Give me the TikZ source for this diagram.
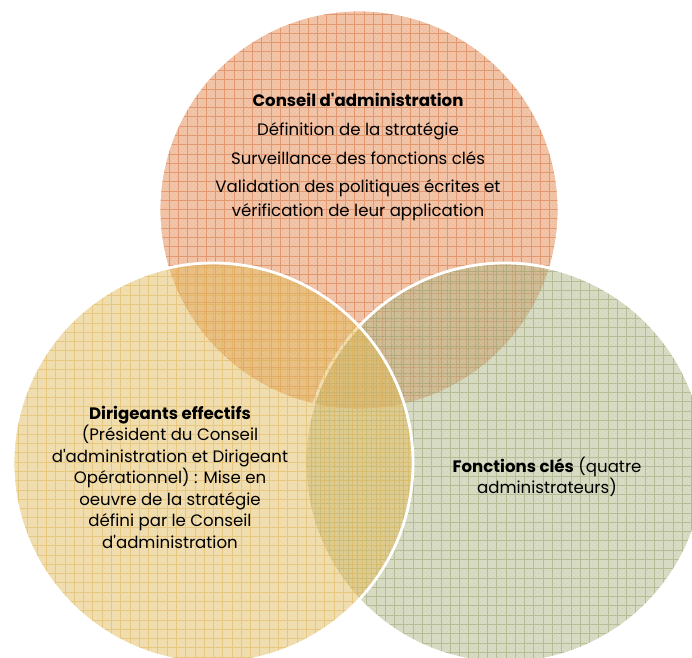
\documentclass[tikz,border=0pt]{standalone}
\usepackage{fontspec}
\setmainfont{Poppins}[Ligatures=TeXOff]
\usetikzlibrary{patterns, calc}

% couleurs des trois ensembles
\definecolor{conseilC}{HTML}{E58951}
\definecolor{dirigC}{HTML}{E3BE62}
\definecolor{fonctC}{HTML}{B1B989}
\definecolor{conseilG}{HTML}{D0662E}
\definecolor{dirigG}{HTML}{DDAD48}
\definecolor{fonctG}{HTML}{8F9862}

\tikzset{
	bord/.style={draw=white, line width=2pt},
	grille/.style={line width=0.5pt, draw opacity=0.45},
	texte/.style={align=center, inner sep=0pt, text=black,
		font=\fontsize{11.8}{15.3}\selectfont},
}

\begin{document}
\begin{tikzpicture}
	% Rayon et pas de la grille
	\def\R{5}
	\def\pas{0.232}
	
	% --- Cadre ---
	\useasboundingbox (0,0) rectangle (17.3,16.425);
	\clip (0,0) rectangle (17.3,16.425);
	
	% --- Centres ---
	\coordinate (cConseil) at (8.975,11.175);
	\coordinate (cDirig) at (5.325,4.85);
	\coordinate (cFonct) at (12.625,4.85);
	
	% --- Cercles (haut, droite, gauche) ---
	\foreach \c/\coul/\gr/\dx in {cConseil/conseilC/conseilG/0.05, cFonct/fonctC/fonctG/0.12, cDirig/dirigC/dirigG/0.0}{
		\begin{scope}
			\clip (\c) circle (\R);
			\fill[\coul, fill opacity=0.5] (\c) circle (\R);
			\fill[pattern=crosshatch dots, pattern color=\gr, opacity=0.12] (\c) circle (\R);
			\draw[grille, \gr, shift={(\dx,\dx)}, step=\pas] ($(\c)+(-5.2,-5.2)$) grid ($(\c)+(5.2,5.2)$);
		\end{scope}
		\draw[bord] (\c) circle (\R);
	}
	
	% --- Textes ---
	\node[texte, font=\fontsize{11.8}{16.4}\selectfont] (conseil) at (8.95,12.5)
	{\textbf{Conseil d'administration}\\[4pt]
		Définition de la stratégie\\[4pt]
		Surveillance des fonctions clés\\[4pt]
		Validation des politiques écrites et\\
		vérification de leur application};
	
	\node[texte] (dirig) at (4.25,4.49)
	{\textbf{Dirigeants effectifs}\\
		(Président du Conseil\\
		d'administration et Dirigeant\\
		Opérationnel) : Mise en\\
		oeuvre de la stratégie\\
		défini par le Conseil\\
		d'administration};
	
	\node[texte, font=\fontsize{11.8}{14.7}\selectfont] (fonct) at (13.675,4.5)
	{\textbf{Fonctions clés} (quatre\\
		administrateurs)};
\end{tikzpicture}
\end{document}
